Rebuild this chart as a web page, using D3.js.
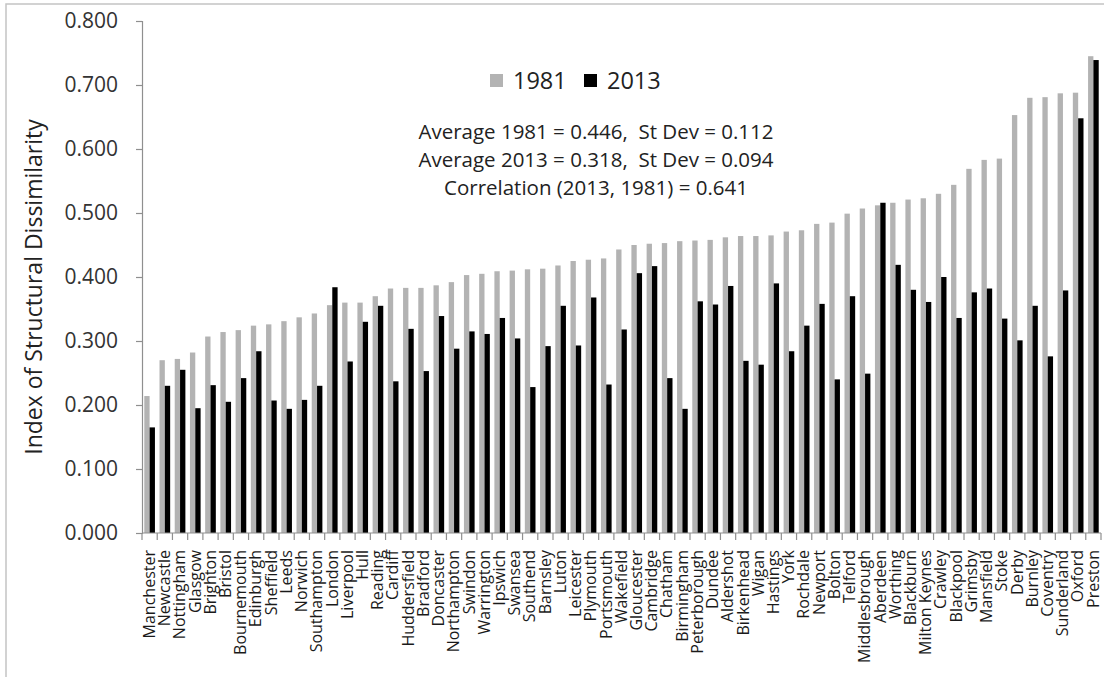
<!DOCTYPE html>
<html>
<head>
<meta charset="utf-8">
<script src="https://cdn.jsdelivr.net/npm/d3@7"></script>
<style>
  html, body { margin: 0; padding: 0; background: #fff; }
  svg { display: block; font-family: "Open Sans", "Liberation Sans", sans-serif; }
</style>
</head>
<body>
<svg id="chart" width="1104" height="677"></svg>
<script>
// Travel-to-work areas, ordered by 1981 index
const cities = [
  "Manchester","Newcastle","Nottingham","Glasgow","Brighton","Bristol","Bournemouth","Edinburgh",
  "Sheffield","Leeds","Norwich","Southampton","London","Liverpool","Hull","Reading","Cardiff",
  "Huddersfield","Bradford","Doncaster","Northampton","Swindon","Warrington","Ipswich","Swansea",
  "Southend","Barnsley","Luton","Leicester","Plymouth","Portsmouth","Wakefield","Gloucester",
  "Cambridge","Chatham","Birmingham","Peterborough","Dundee","Aldershot","Birkenhead","Wigan",
  "Hastings","York","Rochdale","Newport","Bolton","Telford","Middlesbrough","Aberdeen","Worthing",
  "Blackburn","Milton Keynes","Crawley","Blackpool","Grimsby","Mansfield","Stoke","Derby",
  "Burnley","Coventry","Sunderland","Oxford","Preston"
];

const values1981 = [
  0.214,0.270,0.272,0.282,0.307,0.314,0.317,0.324,0.326,0.331,0.337,0.343,0.356,0.360,0.360,0.370,
  0.382,0.383,0.383,0.387,0.392,0.403,0.405,0.409,0.410,0.412,0.413,0.418,0.425,0.427,0.429,0.443,
  0.450,0.452,0.453,0.456,0.457,0.458,0.462,0.464,0.464,0.465,0.471,0.473,0.483,0.485,0.499,0.507,
  0.512,0.516,0.521,0.523,0.530,0.544,0.569,0.583,0.585,0.653,0.680,0.681,0.687,0.688,0.745
];

const values2013 = [
  0.165,0.230,0.255,0.195,0.231,0.205,0.242,0.284,0.207,0.194,0.208,0.230,0.384,0.268,0.330,0.355,
  0.237,0.319,0.253,0.339,0.288,0.315,0.311,0.336,0.304,0.228,0.292,0.355,0.293,0.368,0.232,0.318,
  0.406,0.417,0.242,0.194,0.362,0.357,0.386,0.269,0.263,0.390,0.284,0.324,0.358,0.240,0.370,0.249,
  0.516,0.419,0.380,0.361,0.400,0.336,0.376,0.382,0.335,0.301,0.355,0.276,0.379,0.648,0.739
];

const seriesNames = ["1981", "2013"];
const seriesColors = ["#b3b3b3", "#000000"];
const yTicks = [0, 0.1, 0.2, 0.3, 0.4, 0.5, 0.6, 0.7, 0.8];
const yTitle = "Index of Structural Dissimilarity";
const statLines = [
  "Average 1981 = 0.446,  St Dev = 0.112",
  "Average 2013 = 0.318,  St Dev = 0.094",
  "Correlation (2013, 1981) = 0.641"
];

const svg = d3.select("#chart");
const axisColor = "#8f8f8f";

// outer frame
svg.append("rect")
  .attr("x", 6).attr("y", 4)
  .attr("width", 1120).attr("height", 700)
  .attr("fill", "none").attr("stroke", "#c4c4c4").attr("stroke-width", 1.5);

const plot = { left: 142, right: 1101, top: 21, bottom: 533 };

const x = d3.scaleBand()
  .domain(cities)
  .range([plot.left, plot.right])
  .paddingInner(0.3)
  .paddingOuter(0.15);

const xSub = d3.scaleBand()
  .domain(seriesNames)
  .range([0, x.bandwidth()]);

const y = d3.scaleLinear()
  .domain([0, 0.8])
  .range([plot.bottom, plot.top]);

const rows = cities.map((c, i) => ({ city: c, vals: [values1981[i], values2013[i]] }));

// bars
const groups = svg.append("g").selectAll("g")
  .data(rows).join("g")
  .attr("transform", d => `translate(${x(d.city)},0)`);

groups.selectAll("rect")
  .data(d => d.vals.map((v, k) => ({ key: seriesNames[k], v, k })))
  .join("rect")
  .attr("x", d => xSub(d.key))
  .attr("width", xSub.bandwidth())
  .attr("y", d => y(d.v))
  .attr("height", d => y(0) - y(d.v))
  .attr("fill", d => seriesColors[d.k]);

// y axis
const yAxis = d3.axisLeft(y)
  .tickValues(yTicks)
  .tickFormat(d3.format(".3f"))
  .tickSize(6)
  .tickPadding(18);

const gy = svg.append("g")
  .attr("transform", `translate(${plot.left},0)`)
  .call(yAxis);
gy.select(".domain").attr("stroke", axisColor).attr("stroke-width", 1.2);
gy.selectAll(".tick line").attr("stroke", axisColor).attr("stroke-width", 1.2);
gy.selectAll(".tick text")
  .attr("font-size", 21)
  .attr("fill", "#333")
  .attr("font-family", "'Open Sans', sans-serif");

// x axis line with ticks between categories
const gx = svg.append("g");
gx.append("line")
  .attr("x1", plot.left).attr("x2", plot.right)
  .attr("y1", plot.bottom).attr("y2", plot.bottom)
  .attr("stroke", axisColor).attr("stroke-width", 1.2);

const step = x.step();
const boundaries = cities.map(c => x(c) - x.paddingOuter() * step).concat([plot.right]);
gx.selectAll("line.tick")
  .data(boundaries).join("line")
  .attr("class", "tick")
  .attr("x1", d => d).attr("x2", d => d)
  .attr("y1", plot.bottom).attr("y2", plot.bottom + 7)
  .attr("stroke", axisColor).attr("stroke-width", 1.2);

// category labels, rotated
gx.selectAll("text")
  .data(cities).join("text")
  .attr("transform", d => `translate(${x(d) + x.bandwidth() / 2},550) rotate(-90)`)
  .attr("dy", "0.33em")
  .attr("text-anchor", "end")
  .attr("font-size", 16)
  .attr("fill", "#1a1a1a")
  .text(d => d);

// y axis title
svg.append("text")
  .attr("transform", "translate(42,287) rotate(-90)")
  .attr("text-anchor", "middle")
  .attr("font-size", 23)
  .attr("fill", "#222")
  .text(yTitle);

// legend
const legend = svg.append("g");
const legendX = [490, 584];
seriesNames.forEach((name, k) => {
  legend.append("rect")
    .attr("x", legendX[k]).attr("y", 74)
    .attr("width", 13).attr("height", 13)
    .attr("fill", seriesColors[k]);
  legend.append("text")
    .attr("x", legendX[k] + 23).attr("y", 89)
    .attr("font-size", 23.5)
    .attr("fill", "#222")
    .text(name);
});

// summary statistics
svg.append("g").selectAll("text")
  .data(statLines).join("text")
  .attr("x", 596)
  .attr("y", (d, i) => 139 + i * 28)
  .attr("text-anchor", "middle")
  .attr("font-size", 20.5)
  .attr("fill", "#222")
  .style("white-space", "pre")
  .text(d => d);
</script>
</body>
</html>
